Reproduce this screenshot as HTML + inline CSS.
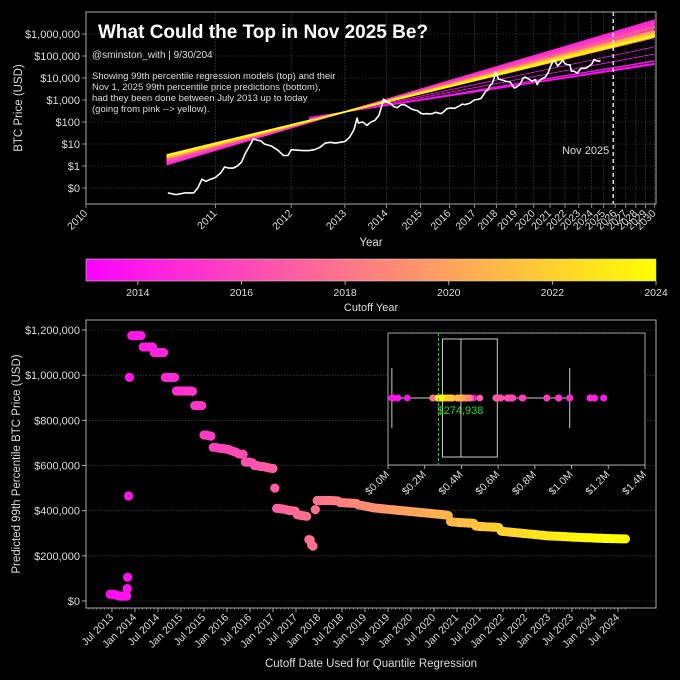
<!DOCTYPE html>
<html><head><meta charset="utf-8"><style>
html,body{margin:0;padding:0;background:#000;}
svg{display:block;font-family:"Liberation Sans",Arial,sans-serif;}
</style></head><body>
<svg id="chart" width="680" height="680" viewBox="0 0 680 680">
<rect width="680" height="680" fill="#000"/>
</svg>
<script>
// ===== Data =====
const cutoffDates=[2013.46,2013.50,2013.54,2013.58,2013.62,2013.66,2013.70,2013.74,2013.78,2013.82,2013.83,2013.84,2013.86,2013.88,
2013.93,2013.98,2014.03,2014.08,2014.13,2014.18,2014.23,2014.28,2014.33,2014.38,2014.42,2014.47,2014.52,2014.57,2014.62,
2014.66,2014.71,2014.76,2014.81,2014.86,2014.90,2014.95,2015.00,2015.05,2015.10,2015.15,2015.20,2015.25,
2015.30,2015.35,2015.40,2015.45,2015.50,2015.55,2015.60,2015.65,2015.70,2015.75,2015.80,2015.85,2015.90,2015.95,2016.00,2016.05,
2016.10,2016.15,2016.20,2016.25,2016.30,2016.35,2016.40,2016.45,2016.50,2016.55,2016.60,2016.65,2016.70,2016.75,2016.80,2016.85,2016.90,2016.95,2017.00,
2017.04,2017.08,2017.13,2017.18,2017.23,2017.28,2017.33,2017.38,2017.43,2017.48,2017.53,2017.58,2017.63,2017.68,2017.73,
2017.78,2017.81,2017.84,2017.87,2017.92,
2017.96,2018.01,2018.06,2018.11,2018.16,2018.21,2018.26,2018.31,2018.36,2018.41,2018.46,2018.51,2018.56,2018.61,2018.66,2018.71,2018.76,2018.81,
2018.86,2018.91,2018.96,2019.01,2019.06,2019.11,2019.16,2019.21,2019.26,2019.31,2019.36,2019.41,2019.46,2019.51,2019.56,2019.61,2019.66,2019.71,2019.76,2019.81,2019.86,2019.91,2019.96,2020.01,2020.06,2020.11,2020.16,2020.21,2020.26,2020.31,2020.36,2020.41,2020.46,2020.51,2020.56,2020.61,2020.66,2020.71,2020.76,2020.81,
2020.86,2020.91,2020.96,2021.01,2021.06,2021.11,2021.16,2021.21,2021.26,2021.31,2021.36,
2021.41,2021.46,2021.51,2021.56,2021.61,2021.66,2021.71,2021.76,2021.81,2021.86,2021.91,
2021.96,2022.01,2022.06,2022.11,2022.16,2022.21,2022.26,2022.31,2022.36,2022.41,2022.46,2022.51,2022.56,2022.61,2022.66,2022.71,2022.76,2022.81,2022.86,2022.91,2022.96,2023.01,2023.06,2023.11,2023.16,2023.21,2023.26,2023.31,2023.36,2023.41,2023.46,2023.51,2023.56,2023.61,2023.66,2023.71,2023.76,2023.81,2023.86,2023.91,2023.96,2024.01,2024.06,2024.11,2024.16,2024.21,2024.26,2024.31,2024.36,2024.41,2024.46,2024.51,2024.56,2024.61,2024.66];
const predictedK=[30,30,29,28,24,22,22,21,22,22,55,105,465,990,
1175,1175,1175,1175,1175,1125,1125,1125,1125,1125,1100,1100,1100,1100,1100,
990,990,990,990,990,930,930,930,930,930,930,930,928,
865,865,865,865,735,735,732,730,680,680,678,676,675,674,672,670,
665,662,658,652,650,650,615,615,615,612,600,600,597,595,595,592,590,588,587,
500,410,410,408,407,405,402,400,400,398,382,380,378,377,375,
272,270,248,243,405,
445,445,445,445,445,445,445,444,444,443,436,435,435,434,434,433,433,432,
425,424,422,420,418,416,414,412,411,410,409,408,407,406,405,404,403,402,401,400,399,398,397,396,395,394,393,392,391,390,389,388,387,386,385,384,383,382,381,378,
352,350,349,348,347,347,346,346,345,345,344,
332,331,330,330,329,328,328,327,327,326,325,
310,308,307,306,305,304,303,302,301,300,299,298,297,296,295,294,293,292,291,290,289,288,288,287,287,286,286,285,285,284,284,283,283,282,282,281,281,280,280,280,279,279,278,278,278,277,277,277,276,276,276,275.5,275.3,275.1,274.938];
const priceDates=[2010.55,2010.62,2010.7,2010.78,2010.82,2010.86,2010.9,2010.95,2011.0,2011.06,2011.1,2011.15,2011.2,2011.25,2011.3,2011.35,2011.4,2011.45,2011.5,2011.55,2011.6,2011.7,2011.8,2011.88,2011.95,2012.0,2012.1,2012.2,2012.3,2012.4,2012.5,2012.6,2012.7,2012.8,2012.9,2013.0,2013.1,2013.2,2013.27,2013.3,2013.4,2013.5,2013.6,2013.7,2013.8,2013.85,2013.92,2014.0,2014.1,2014.2,2014.3,2014.4,2014.5,2014.6,2014.7,2014.8,2014.9,2015.0,2015.1,2015.2,2015.3,2015.4,2015.5,2015.6,2015.7,2015.8,2015.9,2016.0,2016.2,2016.4,2016.5,2016.6,2016.8,2017.0,2017.2,2017.3,2017.4,2017.5,2017.6,2017.7,2017.8,2017.9,2017.96,2018.05,2018.1,2018.3,2018.5,2018.7,2018.9,2019.0,2019.2,2019.4,2019.5,2019.7,2019.9,2020.1,2020.2,2020.3,2020.5,2020.7,2020.9,2021.0,2021.2,2021.35,2021.5,2021.65,2021.85,2022.0,2022.2,2022.35,2022.45,2022.6,2022.9,2023.0,2023.2,2023.4,2023.6,2023.8,2024.0,2024.2,2024.35,2024.5,2024.6,2024.72];
const priceUSD=[0.06,0.05,0.06,0.06,0.1,0.25,0.2,0.25,0.3,0.5,0.9,0.8,0.8,1.0,1.5,4,8,17,15,14,10,8,5,3,3,5.5,5.2,5,5,5.5,7,11,12,11,12,13,20,45,150,90,100,70,100,120,200,400,1100,800,700,500,450,600,620,500,400,350,330,250,230,240,230,240,280,250,240,300,400,430,420,550,650,620,700,1000,1100,1200,1700,2500,2800,4500,5500,10000,19000,12000,9000,8000,7000,6500,3500,3700,5000,10000,11000,9000,7200,8500,5000,7000,9500,11000,19000,30000,60000,55000,35000,45000,65000,45000,40000,40000,20000,21000,16500,21000,28000,27000,29000,35000,43000,70000,62000,60000,57000,63000];
const yearTicks=[2010,2011,2012,2013,2014,2015,2016,2017,2018,2019,2020,2021,2022,2023,2024,2025,2026,2027,2028,2029,2030];
const priceTicks=[1000000,100000,10000,1000,100,10,1,0.1];
const priceTickLabels=["$1,000,000","$100,000","$10,000","$1,000","$100","$10","$1","$0"];
const cbTicks=[2014,2016,2018,2020,2022,2024];
const predTicksK=[0,200,400,600,800,1000,1200];
const dateTickLabels=["Jul 2013","Jan 2014","Jul 2014","Jan 2015","Jul 2015","Jan 2016","Jul 2016","Jan 2017","Jul 2017","Jan 2018","Jul 2018","Jan 2019","Jul 2019","Jan 2020","Jul 2020","Jan 2021","Jul 2021","Jan 2022","Jul 2022","Jan 2023","Jul 2023","Jan 2024","Jul 2024"];
const insetTicksM=[0,0.2,0.4,0.6,0.8,1.0,1.2,1.4];

// ===== helpers =====
const svg=document.getElementById('chart');
const NS='http://www.w3.org/2000/svg';
function mk(tag,attrs,parent){const e=document.createElementNS(NS,tag);for(const k in attrs)e.setAttribute(k,attrs[k]);(parent||svg).appendChild(e);return e;}
function color(d){let t=(d-2013)/11;t=Math.max(0,Math.min(1,t));return `rgb(255,${Math.round(255*t)},${Math.round(255*(1-t))})`;}
const GRID='#555';
const xT=yr=>86+430*Math.log10(yr-2009);
const yT=p=>34+(6-Math.log10(p))*22;
const LT_PIVOT=0.6, LP_PIVOT=2.45, LT_NOV=Math.log10(2025.83-2009);

// ===== TOP CHART =====
const topG=mk('g',{});


yearTicks.forEach(y=>{
  const x=xT(y);
  const g=mk('line',{x1:x,x2:x,y1:12,y2:204,stroke:GRID,'stroke-width':0.6,'stroke-dasharray':'1.5,1.5'},topG);
  
  mk('line',{x1:x,x2:x,y1:204,y2:208,stroke:'#aaa','stroke-width':0.8},topG);
  const t=mk('text',{x:x+2,y:214,'font-size':10.5,fill:'#ddd','text-anchor':'end',transform:`rotate(-45 ${x+2} 214)`},topG);
  t.textContent=y;
  
});
priceTicks.forEach((p,i)=>{
  const y=yT(p);
  mk('line',{x1:86,x2:656,y1:y,y2:y,stroke:GRID,'stroke-width':0.6,'stroke-dasharray':'1.5,1.5'},topG);
  mk('line',{x1:82,x2:86,y1:y,y2:y,stroke:'#aaa','stroke-width':0.8},topG);
  const t=mk('text',{x:80,y:y+4,'font-size':11,fill:'#ddd','text-anchor':'end'},topG);
  t.textContent=priceTickLabels[i];
  
});
const linesG=mk('g',{},topG);

cutoffDates.forEach((d,i)=>{
  const lv=Math.log10(predictedK[i]*1000);
  const b=(lv-LP_PIVOT)/(LT_NOV-LT_PIVOT);
  const thin=predictedK[i]<150;
  const lt0=thin?Math.log10(2012.3-2009):Math.log10(2010.54-2009);
  const lt1=Math.log10(2030-2009);
  const f=lt=>LP_PIVOT+b*(lt-LT_PIVOT);
  const l=mk('line',{x1:86+430*lt0,y1:34+(6-f(lt0))*22,x2:86+430*lt1,y2:34+(6-f(lt1))*22,stroke:color(d),'stroke-width':thin?0.8:1.4},linesG);
  
});
const pp=priceDates.map((d,i)=>`${xT(d).toFixed(1)},${yT(priceUSD[i]).toFixed(1)}`).join(' ');
const path=mk('polyline',{points:pp,fill:'none',stroke:'#fff','stroke-width':1.6,'stroke-linejoin':'round'},topG);

const nx=xT(2025.83);
const nl=mk('line',{x1:nx,x2:nx,y1:12,y2:204,stroke:'#fff','stroke-width':1.3,'stroke-dasharray':'4,3'},topG);

const nt=mk('text',{x:nx-4,y:154,'font-size':11,fill:'#ddd','text-anchor':'end'},topG);
nt.textContent='Nov 2025';
const fr=mk('rect',{x:86,y:12,width:570,height:192,fill:'none',stroke:'#aaa','stroke-width':1},topG);

</script>
<script>
(function(){
function tx(x,y,s,txt,extra,name){const t=document.createElementNS(NS,'text');t.setAttribute('x',x);t.setAttribute('y',y);t.setAttribute('font-size',s);t.setAttribute('fill',extra.fill||'#ddd');if(extra.weight)t.setAttribute('font-weight',extra.weight);if(extra.anchor)t.setAttribute('text-anchor',extra.anchor);if(extra.tr)t.setAttribute('transform',extra.tr);t.textContent=txt;svg.appendChild(t);}
tx(98,38,19,'What Could the Top in Nov 2025 Be?',{fill:'#fff',weight:'bold'},'chart-title');
tx(92,58,10,'@sminston_with  |  9/30/204',{},'subtitle');
tx(92,79,9.5,'Showing 99th percentile regression models (top) and their',{},'description-line');
tx(92,90,9.5,'Nov 1, 2025 99th percentile price predictions (bottom),',{},'description-line');
tx(92,101,9.5,'had they been done between July 2013 up to today',{},'description-line');
tx(92,112,9.5,'(going from pink --> yellow).',{},'description-line');
tx(22,108,11.5,'BTC Price (USD)',{anchor:'middle',tr:'rotate(-90 22 108)'},'top-y-axis-title');
tx(371,246,11.5,'Year',{anchor:'middle'},'top-x-axis-title');
tx(371,311,11,'Cutoff Year',{anchor:'middle'},'colorbar-title');
tx(20,464,11.5,'Predicted 99th Percentile BTC Price (USD)',{anchor:'middle',tr:'rotate(-90 20 464)'},'bottom-y-axis-title');
tx(371,667,11.5,'Cutoff Date Used for Quantile Regression',{anchor:'middle'},'bottom-x-axis-title');
})();
</script>
<script>
(function(){
const defs=mk('defs',{});
const lg=mk('linearGradient',{id:'spring',x1:0,x2:1,y1:0,y2:0},defs);
mk('stop',{offset:0,'stop-color':'#ff00ff'},lg);mk('stop',{offset:1,'stop-color':'#ffff00'},lg);
const cb=mk('rect',{x:86,y:259,width:570,height:22,fill:'url(#spring)',stroke:'#ccc','stroke-width':0.6});

const xC=y=>86+(y-2013)*(570/11);
cbTicks.forEach(y=>{
  mk('line',{x1:xC(y),x2:xC(y),y1:281,y2:285,stroke:'#aaa'});
  const t=mk('text',{x:xC(y),y:296,'font-size':10.5,fill:'#ddd','text-anchor':'middle'});
  t.textContent=y;
});
const xB=d=>112+(d-2013.5)*46;
const yB=k=>601-k/1200*271;
const bot=mk('g',{});

predTicksK.forEach(k=>{
  const y=yB(k);
  mk('line',{x1:86,x2:656,y1:y,y2:y,stroke:GRID,'stroke-width':0.6,'stroke-dasharray':'1.5,1.5'},bot);
  mk('line',{x1:82,x2:86,y1:y,y2:y,stroke:'#aaa'},bot);
  const t=mk('text',{x:80,y:y+4,'font-size':11,fill:'#ddd','text-anchor':'end'},bot);
  t.textContent='$'+(k*1000).toLocaleString('en-US');
  
});
for(let m=0;m<=140;m++){const x=xB(2013+m/12);if(x<86||x>656)continue;mk('line',{x1:x,x2:x,y1:608,y2:610,stroke:'#888','stroke-width':0.6},bot);}
dateTickLabels.forEach((s,i)=>{
  const x=xB(2013.5+i*0.5);
  mk('line',{x1:x,x2:x,y1:608,y2:612,stroke:'#aaa'},bot);
  const t=mk('text',{x:x+2,y:618,'font-size':10.5,fill:'#ddd','text-anchor':'end',transform:`rotate(-45 ${x+2} 618)`},bot);
  t.textContent=s;
});
cutoffDates.forEach((d,i)=>{
  const c=mk('circle',{cx:xB(d),cy:yB(predictedK[i]),r:4.6,fill:color(d)},bot);
  
});
const bf=mk('rect',{x:86,y:320,width:570,height:288,fill:'none',stroke:'#aaa'},bot);


const ins=mk('g',{});

mk('rect',{x:388,y:333,width:257,height:132,fill:'#000',stroke:'#ccc','stroke-width':0.8},ins);
const xI=m=>388+m*(257/1.4);
insetTicksM.forEach(m=>{
  const x=xI(m);
  mk('line',{x1:x,x2:x,y1:465,y2:469,stroke:'#aaa'},ins);
  const t=mk('text',{x:x+2,y:475,'font-size':10.5,fill:'#ddd','text-anchor':'end',transform:`rotate(-45 ${x+2} 475)`},ins);
  t.textContent='$'+m.toFixed(1)+'M';
});
const s=predictedK.map(v=>v/1000).sort((a,b)=>a-b);
const q=p=>{const i=(s.length-1)*p,lo=Math.floor(i),hi=Math.ceil(i);return s[lo]+(s[hi]-s[lo])*(i-lo);};
const q1=q(0.25),med=q(0.5),q3=q(0.75),iqr=q3-q1;
const wLo=s.find(v=>v>=q1-1.5*iqr),wHi=[...s].reverse().find(v=>v<=q3+1.5*iqr);
const bc='#ccc';
mk('line',{x1:xI(wLo),x2:xI(q1),y1:398,y2:398,stroke:bc},ins);
mk('line',{x1:xI(q3),x2:xI(wHi),y1:398,y2:398,stroke:bc},ins);
mk('line',{x1:xI(wLo),x2:xI(wLo),y1:368,y2:428,stroke:bc},ins);
mk('line',{x1:xI(wHi),x2:xI(wHi),y1:368,y2:428,stroke:bc},ins);
const box=mk('rect',{x:xI(q1),y:339,width:xI(q3)-xI(q1),height:118,fill:'none',stroke:bc},ins);

mk('line',{x1:xI(med),x2:xI(med),y1:339,y2:457,stroke:bc},ins);
cutoffDates.forEach((d,i)=>{
  const c=mk('circle',{cx:xI(predictedK[i]/1000),cy:398,r:3.4,fill:color(d)},ins);
  
});
const last=predictedK[predictedK.length-1];
const gl=mk('line',{x1:xI(last/1000),x2:xI(last/1000),y1:333,y2:465,stroke:'#22cc22','stroke-width':1.2,'stroke-dasharray':'3,2'},ins);

const gt=mk('text',{x:xI(last/1000)-1,y:414,'font-size':11,fill:'#22dd22'},ins);
gt.textContent='$'+Math.round(last*1000).toLocaleString('en-US');

})();
</script>
</body></html>
